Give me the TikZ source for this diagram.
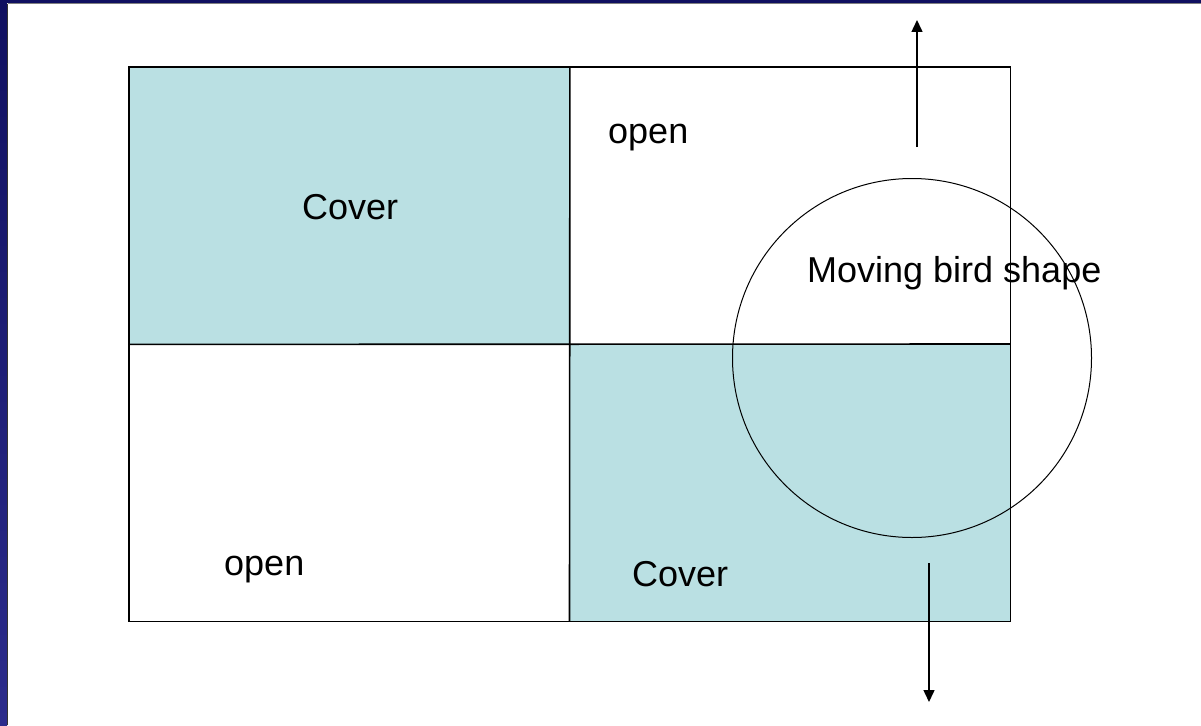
\documentclass[tikz,border=0pt]{standalone}
\usepackage{fontspec}
\setmainfont{Liberation Sans}
\usetikzlibrary{arrows.meta}
\definecolor{coverfill}{RGB}{186,224,227}
\definecolor{navytop}{RGB}{16,16,96}
\definecolor{navybot}{RGB}{44,44,140}
\tikzset{
  cell/.style={minimum width=440.5pt, minimum height=277pt, inner sep=0pt, anchor=north west},
  cover/.style={cell, fill=coverfill},
  opencell/.style={cell, fill=white},
  gridline/.style={draw=black, line width=1.6pt},
  lbl/.style={anchor=base west, inner sep=0pt, font=\fontsize{36}{40}\selectfont},
  motion/.style={line width=1.5pt, -{Triangle[width=11pt,length=12pt]}},
  bird/.style={draw=black, line width=1pt, circle, minimum size=359pt, inner sep=0pt}
}
\begin{document}
\begin{tikzpicture}[x=1pt,y=-1pt]
\useasboundingbox (0,0) rectangle (1201,725);
\fill[white] (0,0) rectangle (1201,725);
% frame
\shade[top color=navytop, bottom color=navybot] (0,0) rectangle (7,725);
\fill[navytop] (0,0) rectangle (1201,3.5);
\draw[black!80, line width=1pt] (7.5,4) -- (7.5,725);
\draw[gray, line width=1pt] (7.5,4) -- (1201,4);
% cells
\node[cover] (c1) at (129,67) {};
\node[opencell] (o1) at (569.5,67) {};
\node[opencell] (o2) at (129,344) {};
\node[cover] (c2) at (569.5,344) {};
% grid outline and dividers
\draw[gridline] (c1.north west) rectangle (c2.south east);
\draw[gridline] (c1.north east) -- (c2.south west);
\draw[gridline] (c1.south west) -- (c2.north east);
% bird circle
\node[bird] (b) at (912,358) {};
% arrows
\coordinate (u0) at (917,147);
\coordinate (u1) at (917,20);
\coordinate (d0) at (929,563);
\coordinate (d1) at (929,702);
\draw[motion] (u0) -- (u1);
\draw[motion] (d0) -- (d1);
% labels
\node[lbl] (t1) at (302,219) {Cover};
\node[lbl] (t2) at (608,143) {open};
\node[lbl] (t3) at (807,282) {Moving bird shape};
\node[lbl] (t4) at (224,575) {open};
\node[lbl] (t5) at (632,586) {Cover};
\end{tikzpicture}
\end{document}
